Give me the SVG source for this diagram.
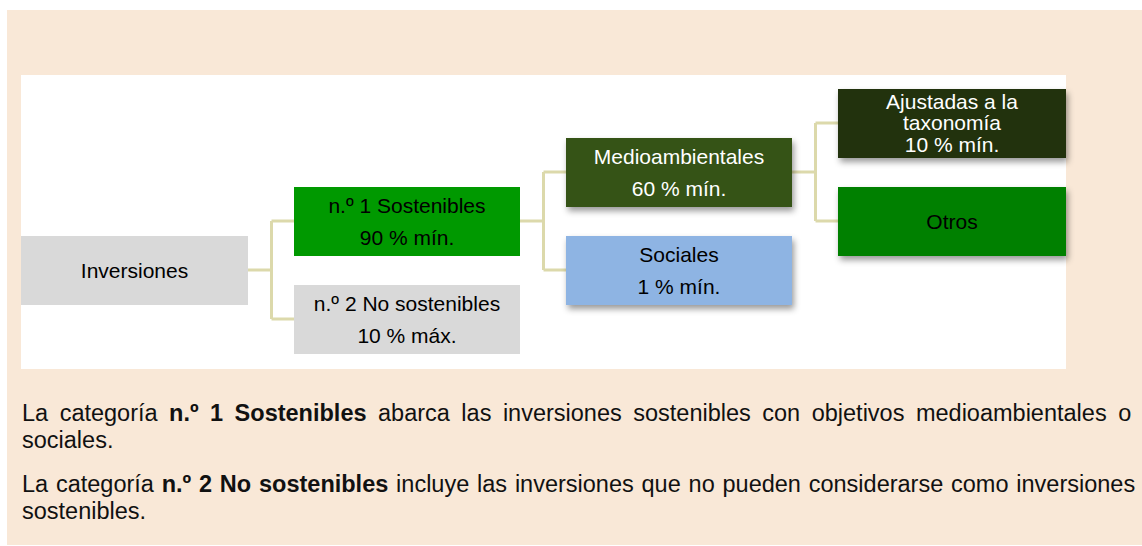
<svg xmlns="http://www.w3.org/2000/svg" width="1142" height="546" viewBox="0 0 1142 546">
<defs>
<style>
.t{font-family:"Liberation Sans",Arial,sans-serif;font-size:21px;text-anchor:middle;fill:#000}
.w{fill:#fff}
.p{font-family:"Liberation Sans",Arial,sans-serif;font-size:23.5px;fill:#111}
.b{font-weight:bold}
.c{fill:none;stroke:#DCD9AB;stroke-width:3}
</style>
<filter id="sh" x="-10%" y="-20%" width="125%" height="160%">
<feDropShadow dx="2" dy="4" stdDeviation="3" flood-color="#000" flood-opacity="0.4"/>
</filter>
</defs>
<rect x="7" y="10" width="1135" height="535" fill="#F9E8D7"/>
<rect x="21" y="75" width="1045" height="294" fill="#FFFFFF"/>
<g id="connectors">
<path class="c" d="M248 270H271.5M271.5 221V319M271.5 221H294M271.5 319H294"/>
<path class="c" d="M520 221H543.5M543.5 172V270M543.5 172H566M543.5 270H566"/>
<path class="c" d="M792 172H815.5M815.5 123V221M815.5 123H838M815.5 221H838"/>
</g>
<g id="inversiones">
<rect x="21" y="236" width="227" height="69" fill="#D9D9D9"/>
<text class="t" x="134.5" y="278">Inversiones</text>
</g>
<g id="sostenibles">
<rect x="294" y="187" width="226" height="69" fill="#009900"/>
<text class="t" x="407" y="213">n.º 1 Sostenibles</text>
<text class="t" x="407" y="245">90 % mín.</text>
</g>
<g id="no-sostenibles">
<rect x="294" y="285" width="226" height="69" fill="#D9D9D9"/>
<text class="t" x="407" y="311">n.º 2 No sostenibles</text>
<text class="t" x="407" y="343">10 % máx.</text>
</g>
<g id="medioambientales">
<rect x="566" y="138" width="226" height="69" fill="#365314" filter="url(#sh)"/>
<text class="t w" x="679" y="164">Medioambientales</text>
<text class="t w" x="679" y="196">60 % mín.</text>
</g>
<g id="sociales">
<rect x="566" y="236" width="226" height="69" fill="#8EB4E3" filter="url(#sh)"/>
<text class="t" x="679" y="262">Sociales</text>
<text class="t" x="679" y="294">1 % mín.</text>
</g>
<g id="ajustadas">
<rect x="838" y="89" width="228" height="69" fill="#213108" filter="url(#sh)"/>
<text class="t w" x="952" y="108.5">Ajustadas a la</text>
<text class="t w" x="952" y="130">taxonomía</text>
<text class="t w" x="952" y="151.5">10 % mín.</text>
</g>
<g id="otros">
<rect x="838" y="187" width="228" height="69" fill="#008000" filter="url(#sh)"/>
<text class="t" x="952" y="229">Otros</text>
</g>
<g id="texto">
<text class="p" x="22" y="421" word-spacing="4.96">La categoría <tspan class="b">n.º 1 Sostenibles</tspan> abarca las inversiones sostenibles con objetivos medioambientales o</text>
<text class="p" x="22" y="448">sociales.</text>
<text class="p" x="22" y="492" word-spacing="1.27">La categoría <tspan class="b">n.º 2 No sostenibles</tspan> incluye las inversiones que no pueden considerarse como inversiones</text>
<text class="p" x="22" y="519">sostenibles.</text>
</g>
</svg>
